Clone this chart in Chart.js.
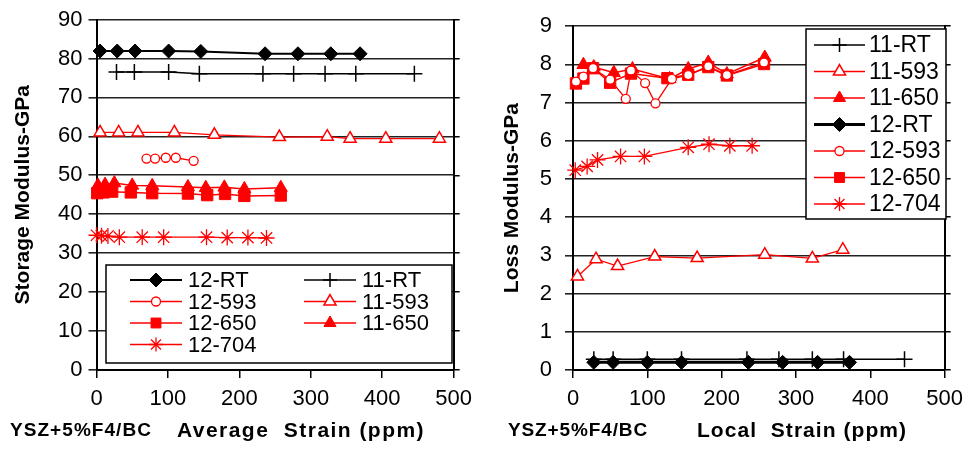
<!DOCTYPE html>
<html>
<head>
<meta charset="utf-8">
<script src="https://cdn.jsdelivr.net/npm/chart.js@4.4.1/dist/chart.umd.min.js"></script>
<style>
html, body { margin: 0; padding: 0; background: #fff; }
#wrap { position: relative; width: 971px; height: 450px; }
#left { position: absolute; left: 0; top: 0; }
#right { position: absolute; left: 480px; top: 0; }
</style>
</head>
<body>
<div id="wrap">
<canvas id="left" width="480" height="450"></canvas>
<canvas id="right" width="491" height="450"></canvas>
</div>
<script>
// ticks
const xTicks = [0, 100, 200, 300, 400, 500];
const storageTicks = [0, 10, 20, 30, 40, 50, 60, 70, 80, 90];
const lossTicks = [0, 1, 2, 3, 4, 5, 6, 7, 8, 9];

// storage modulus (left), average strain
const sx12RT = [5, 29, 54, 101, 146, 236, 282, 328, 369];
const sy12RT = [81.9, 81.9, 81.9, 81.9, 81.8, 81.2, 81.2, 81.2, 81.2];
const sx11RT = [28, 53, 101, 144, 233, 276, 320, 363, 445];
const sy11RT = [76.5, 76.5, 76.5, 76.1, 76.1, 76.1, 76.1, 76.1, 76.1];
const sx11593 = [5, 31, 58, 109, 165, 256, 323, 355, 405, 480];
const sy11593 = [61, 61, 61, 61, 60.4, 59.8, 59.9, 59.4, 59.4, 59.4];
const sx12593 = [70, 82, 97, 111, 136];
const sy12593 = [54.3, 54.3, 54.5, 54.5, 53.7];
const sx11650 = [2, 12, 25, 50, 78, 128, 153, 179, 207, 258];
const sy11650 = [47.4, 47.6, 48, 47.4, 47.3, 47, 46.8, 46.9, 46.5, 46.8];
const sx12650 = [1, 10, 22, 48, 78, 128, 155, 180, 207, 258];
const sy12650 = [45.4, 45.6, 45.8, 45.6, 45.4, 45.3, 44.9, 45.2, 44.7, 44.8];
const sx12704 = [0, 7, 16, 32, 64, 94, 154, 183, 212, 238];
const sy12704 = [34.6, 34.5, 34.4, 34.1, 34.1, 34.1, 34.1, 34, 34, 33.9];

// loss modulus (right), local strain
const lx11RT = [28, 54, 100, 146, 234, 277, 322, 364, 446];
const ly11RT = [0.28, 0.28, 0.28, 0.28, 0.28, 0.28, 0.28, 0.28, 0.28];
const lx11593 = [6, 31, 60, 110, 167, 258, 322, 363];
const ly11593 = [2.45, 2.9, 2.72, 2.97, 2.93, 3.02, 2.92, 3.15];
const lx11650 = [14, 28, 55, 80, 130, 155, 182, 207, 258];
const ly11650 = [7.99, 7.93, 7.78, 7.88, 7.62, 7.88, 8.05, 7.75, 8.18];
const lx12RT = [28, 54, 100, 146, 236, 282, 329, 372];
const ly12RT = [0.2, 0.2, 0.2, 0.2, 0.2, 0.2, 0.2, 0.2];
const lx12593 = [4, 14, 27, 50, 71, 78, 97, 111, 133, 155, 182, 207, 257];
const ly12593 = [7.55, 7.68, 7.9, 7.6, 7.1, 7.84, 7.51, 6.98, 7.62, 7.72, 7.95, 7.72, 8.05];
const lx12650 = [4, 14, 27, 50, 78, 127, 155, 182, 207, 257];
const ly12650 = [7.5, 7.63, 7.9, 7.52, 7.76, 7.64, 7.73, 7.93, 7.71, 8.01];
const lx12704 = [3, 19, 33, 64, 96, 155, 183, 211, 241];
const ly12704 = [5.23, 5.33, 5.5, 5.59, 5.59, 5.83, 5.91, 5.87, 5.87];

Chart.defaults.font.family = "'Liberation Sans', Arial, sans-serif";
Chart.defaults.color = '#000';

const RED = '#ff0000';
const BLACK = '#000000';

const styles = {
    '12-RT': { borderColor: BLACK, pointBackgroundColor: BLACK, pointStyle: 'rectRot', pointRadius: 7, borderWidth: 2, pointBorderWidth: 1 },
    '11-RT': { borderColor: BLACK, pointBackgroundColor: BLACK, pointStyle: 'cross', pointRadius: 8, borderWidth: 1.5, pointBorderWidth: 1.5 },
    '12-593': { borderColor: RED, pointBackgroundColor: '#fff', pointStyle: 'circle', pointRadius: 4.5, borderWidth: 1.3, pointBorderWidth: 1.3 },
    '11-593': { borderColor: RED, pointBackgroundColor: '#fff', pointStyle: 'triangle', pointRadius: 7, borderWidth: 1.3, pointBorderWidth: 1.5 },
    '12-650': { borderColor: RED, pointBackgroundColor: RED, pointStyle: 'rect', pointRadius: 8, borderWidth: 1.5, pointBorderWidth: 1 },
    '11-650': { borderColor: RED, pointBackgroundColor: RED, pointStyle: 'triangle', pointRadius: 7.5, borderWidth: 1.5, pointBorderWidth: 1 },
    '12-704': { borderColor: RED, pointBackgroundColor: RED, pointStyle: 'star', pointRadius: 8, borderWidth: 1.3, pointBorderWidth: 1.3 }
};

function series(label, xs, ys, extra) {
    return Object.assign({
        label: label,
        data: xs.map((x, i) => ({ x: x, y: ys[i] })),
        showLine: true,
        tension: 0,
        fill: false,
        clip: false,
        pointHoverRadius: 0
    }, styles[label], extra || {});
}

// legend drawn as line + marker + label, like the original
const legendBox = {
    id: 'legendBox',
    afterDraw(chart, args, opts) {
        const ctx = chart.ctx;
        ctx.save();
        ctx.fillStyle = '#fff';
        ctx.strokeStyle = '#000';
        ctx.lineWidth = 1.5;
        ctx.fillRect(opts.x, opts.y, opts.w, opts.h);
        ctx.strokeRect(opts.x, opts.y, opts.w, opts.h);
        ctx.font = opts.size + "px 'Liberation Sans', Arial, sans-serif";
        ctx.textBaseline = 'middle';
        opts.items.forEach(it => {
            const ds = chart.data.datasets.find(d => d.label === it.label);
            ctx.strokeStyle = ds.borderColor;
            ctx.lineWidth = ds.borderWidth;
            ctx.beginPath();
            ctx.moveTo(it.x, it.y);
            ctx.lineTo(it.x + opts.lineLen, it.y);
            ctx.stroke();
            ctx.fillStyle = ds.pointBackgroundColor;
            ctx.strokeStyle = ds.borderColor;
            ctx.lineWidth = ds.pointBorderWidth;
            Chart.helpers.drawPoint(ctx, {
                pointStyle: ds.pointStyle,
                radius: Math.min(ds.pointRadius, 7),
                rotation: 0,
                borderWidth: ds.pointBorderWidth
            }, it.x + opts.lineLen / 2, it.y);
            ctx.fillStyle = '#000';
            ctx.textAlign = 'left';
            ctx.fillText(it.label, it.x + opts.lineLen + opts.gap, it.y + 1);
        });
        ctx.restore();
    }
};

// bottom captions, stretched to their original widths
const captions = {
    id: 'captions',
    afterDraw(chart, args, opts) {
        const ctx = chart.ctx;
        ctx.save();
        ctx.fillStyle = '#000';
        ctx.textBaseline = 'middle';
        ctx.textAlign = 'left';
        opts.items.forEach(c => {
            ctx.font = 'bold ' + c.size + "px 'Liberation Sans', Arial, sans-serif";
            if ('letterSpacing' in ctx) ctx.letterSpacing = '0px';
            const w0 = ctx.measureText(c.text).width;
            if ('letterSpacing' in ctx) ctx.letterSpacing = ((c.w - w0) / c.text.length) + 'px';
            ctx.fillText(c.text, c.x, c.y);
        });
        if ('letterSpacing' in ctx) ctx.letterSpacing = '0px';
        ctx.restore();
    }
};

function makeScales(yMax, yTicks, yTitle, yWidth, titlePad, yPad) {
    return {
        x: {
            type: 'linear', min: 0, max: 500, position: 'bottom',
            afterBuildTicks: s => { s.ticks = xTicks.map(v => ({ value: v })); },
            ticks: { font: { size: 22 }, padding: 8, maxRotation: 0 },
            grid: { drawOnChartArea: false, tickLength: 8, color: '#000', lineWidth: 1.5 },
            border: { color: '#000', width: 2 },
            afterFit: s => { s.height = 80; }
        },
        y: {
            min: 0, max: yMax,
            afterBuildTicks: s => { s.ticks = yTicks.map(v => ({ value: v })); },
            ticks: { font: { size: 22 }, padding: yPad },
            grid: { color: '#222', lineWidth: 1.6, tickLength: 8 },
            border: { color: '#000', width: 2 },
            title: { display: true, text: yTitle, font: { size: 21, weight: 'bold' }, padding: { top: titlePad, bottom: 0 } },
            afterFit: s => { s.width = yWidth; }
        },
        y2: {
            position: 'right', min: 0, max: yMax,
            afterBuildTicks: s => { s.ticks = yTicks.map(v => ({ value: v })); },
            ticks: { display: false },
            grid: { drawOnChartArea: false, tickLength: 6, color: '#000', lineWidth: 1.5 },
            border: { color: '#000', width: 2 },
            afterFit: s => { s.width = 6; }
        }
    };
}

new Chart(document.getElementById('left'), {
    type: 'scatter',
    data: {
        datasets: [
            series('12-RT', sx12RT, sy12RT),
            series('11-RT', sx11RT, sy11RT),
            series('12-593', sx12593, sy12593),
            series('11-593', sx11593, sy11593),
            series('12-650', sx12650, sy12650),
            series('11-650', sx11650, sy11650),
            series('12-704', sx12704, sy12704)
        ]
    },
    options: {
        responsive: false,
        animation: false,
        layout: { padding: { left: 0, right: 12.5, top: 19.5, bottom: 0 } },
        plugins: {
            legend: { display: false },
            tooltip: { enabled: false },
            legendBox: {
                x: 106, y: 265, w: 346, h: 98, size: 22, lineLen: 52, gap: 6,
                items: [
                    { label: '12-RT', x: 130, y: 280 },
                    { label: '11-RT', x: 304, y: 280 },
                    { label: '12-593', x: 130, y: 301.5 },
                    { label: '11-593', x: 304, y: 301.5 },
                    { label: '12-650', x: 130, y: 323 },
                    { label: '11-650', x: 304, y: 323 },
                    { label: '12-704', x: 130, y: 344.5 }
                ]
            },
            captions: {
                items: [
                    { text: 'YSZ+5%F4/BC', x: 10, y: 431, w: 142, size: 19 },
                    { text: 'Average  Strain (ppm)', x: 177, y: 431, w: 248, size: 21 }
                ]
            }
        },
        scales: makeScales(90, storageTicks, 'Storage Modulus-GPa', 96.5, 11, 6)
    },
    plugins: [legendBox, captions]
});

new Chart(document.getElementById('right'), {
    type: 'scatter',
    data: {
        datasets: [
            series('11-RT', lx11RT, ly11RT),
            series('12-RT', lx12RT, ly12RT, { borderWidth: 3 }),
            series('11-593', lx11593, ly11593),
            series('12-704', lx12704, ly12704),
            series('12-593', lx12593, ly12593),
            series('12-650', lx12650, ly12650),
            series('11-650', lx11650, ly11650)
        ]
    },
    options: {
        responsive: false,
        animation: false,
        layout: { padding: { left: 0, right: 13.5, top: 20, bottom: 0 } },
        plugins: {
            legend: { display: false },
            tooltip: { enabled: false },
            legendBox: {
                x: 326, y: 29, w: 140, h: 190, size: 23, lineLen: 51, gap: 4,
                items: [
                    { label: '11-RT', x: 334, y: 45 },
                    { label: '11-593', x: 334, y: 71.5 },
                    { label: '11-650', x: 334, y: 98 },
                    { label: '12-RT', x: 334, y: 124.5 },
                    { label: '12-593', x: 334, y: 151 },
                    { label: '12-650', x: 334, y: 177.5 },
                    { label: '12-704', x: 334, y: 204 }
                ]
            },
            captions: {
                items: [
                    { text: 'YSZ+5%F4/BC', x: 28, y: 431, w: 140, size: 19 },
                    { text: 'Local  Strain (ppm)', x: 217, y: 431, w: 210, size: 21 }
                ]
            }
        },
        scales: makeScales(9, lossTicks, 'Loss Modulus-GPa', 93, 20, 13)
    },
    plugins: [legendBox, captions]
});
</script>
</body>
</html>
